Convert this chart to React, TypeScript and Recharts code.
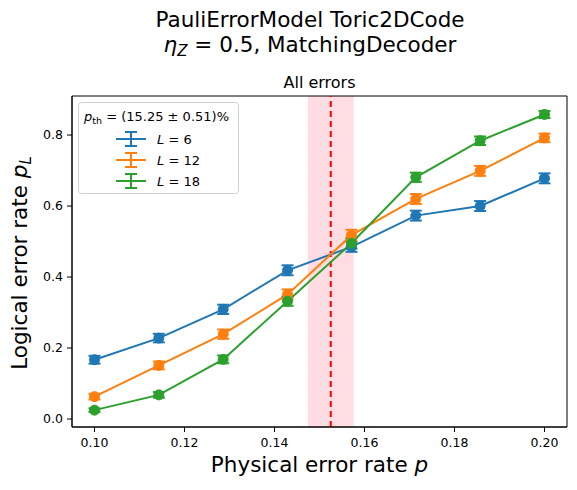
import { ComposedChart, Line, XAxis, YAxis, ErrorBar, ReferenceArea, ReferenceLine } from 'recharts';

// physical error rates p (8 evenly spaced points 0.10 .. 0.20)
const physicalRates = [0.1, 0.1143, 0.1286, 0.1429, 0.1571, 0.1714, 0.1857, 0.2];

// logical error rates and their error bars, per code size L
const pL6 = [0.167, 0.228, 0.309, 0.419, 0.485, 0.573, 0.6, 0.678];
const errL6 = [0.011, 0.012, 0.013, 0.014, 0.014, 0.014, 0.014, 0.014];
const pL12 = [0.063, 0.151, 0.239, 0.351, 0.518, 0.62, 0.699, 0.792];
const errL12 = [0.008, 0.011, 0.013, 0.014, 0.015, 0.014, 0.014, 0.012];
const pL18 = [0.025, 0.068, 0.168, 0.332, 0.495, 0.681, 0.784, 0.858];
const errL18 = [0.005, 0.008, 0.011, 0.013, 0.015, 0.013, 0.012, 0.01];

const xTicks = [0.1, 0.12, 0.14, 0.16, 0.18, 0.2];
const yTicks = [0, 0.2, 0.4, 0.6, 0.8];

const threshold = 0.1525;
const thresholdErr = 0.0051;

const series = [
  { key: 'l6', err: 'e6', label: '6', color: '#1f77b4' },
  { key: 'l12', err: 'e12', label: '12', color: '#ff7f0e' },
  { key: 'l18', err: 'e18', label: '18', color: '#2ca02c' },
];

const data = physicalRates.map((p, i) => ({
  p,
  l6: pL6[i], e6: errL6[i],
  l12: pL12[i], e12: errL12[i],
  l18: pL18[i], e18: errL18[i],
}));

const FONT = '"DejaVu Sans", sans-serif';
const tickStyle = { fill: '#000', fontSize: 12.5, fontFamily: FONT };

function LegendIcon({ x, y, color }: { x: number; y: number; color: string }) {
  return (
    <g stroke={color} strokeWidth={2}>
      <line x1={x} y1={y} x2={x + 30} y2={y} />
      <line x1={x + 15} y1={y - 7} x2={x + 15} y2={y + 7} />
      <line x1={x + 9} y1={y - 7} x2={x + 21} y2={y - 7} />
      <line x1={x + 9} y1={y + 7} x2={x + 21} y2={y + 7} />
    </g>
  );
}

export default function App() {
  return (
    <div style={{ position: 'absolute', left: 0, top: 0, width: 577, height: 490, background: '#fff' }}>
      <ComposedChart width={577} height={490} data={data} margin={{ top: 96, right: 10, bottom: 0, left: 0 }}>
        <ReferenceArea x1={threshold - thresholdErr} x2={threshold + thresholdErr} fill="#ffdde2" fillOpacity={1} stroke="none" />
        <ReferenceLine x={threshold} stroke="#ff0000" strokeWidth={2} strokeDasharray="6 4" />
        <XAxis
          dataKey="p"
          type="number"
          domain={[0.095, 0.205]}
          ticks={xTicks}
          tickFormatter={(v: number) => v.toFixed(2)}
          height={63}
          tick={tickStyle}
          tickSize={5}
          tickMargin={6}
          stroke="#000"
          allowDataOverflow
        />
        <YAxis
          type="number"
          domain={[-0.0225, 0.91]}
          ticks={yTicks}
          tickFormatter={(v: number) => v.toFixed(1)}
          width={72}
          tick={tickStyle}
          tickSize={5}
          tickMargin={4}
          stroke="#000"
          allowDataOverflow
        />
        <ReferenceArea x1={0.095} x2={0.205} y1={-0.0225} y2={0.91} fill="none" stroke="#000" strokeWidth={1} />
        {series.map((s) => (
          <Line
            key={s.key}
            dataKey={s.key}
            stroke={s.color}
            strokeWidth={2}
            dot={{ r: 5, fill: s.color, stroke: s.color, strokeWidth: 1 }}
            isAnimationActive={false}
          >
            <ErrorBar dataKey={s.err} width={6} stroke={s.color} strokeWidth={2} direction="y" />
          </Line>
        ))}
      </ComposedChart>

      <svg width={577} height={490} style={{ position: 'absolute', left: 0, top: 0, pointerEvents: 'none' }} fontFamily={FONT}>
        <text x={310} y={27} textAnchor="middle" fontSize={21.5}>PauliErrorModel Toric2DCode</text>
        <text x={310} y={52} textAnchor="middle" fontSize={21.5}>
          <tspan fontStyle="italic">η</tspan>
          <tspan fontStyle="italic" fontSize={15} dy={4}>Z</tspan>
          <tspan dy={-4}> = 0.5, MatchingDecoder</tspan>
        </text>
        <text x={319.5} y={88} textAnchor="middle" fontSize={16}>All errors</text>

        <text x={319.5} y={472} textAnchor="middle" fontSize={21.5}>
          Physical error rate <tspan fontStyle="italic">p</tspan>
        </text>
        <text transform="translate(26.5,263) rotate(-90)" textAnchor="middle" fontSize={21.5}>
          Logical error rate <tspan fontStyle="italic">p</tspan>
          <tspan fontStyle="italic" fontSize={15} dy={4}>L</tspan>
        </text>

        <rect x={78.5} y={102.5} width={160} height={91} rx={3} fill="#fff" fillOpacity={0.8} stroke="#d0d0d0" />
        <text x={84} y={121} fontSize={13}>
          <tspan fontStyle="italic">p</tspan>
          <tspan fontSize={9.5} dy={3}>th</tspan>
          <tspan dy={-3}> = (15.25 ± 0.51)%</tspan>
        </text>
        {series.map((s, i) => (
          <g key={s.key}>
            <LegendIcon x={116} y={139 + i * 21} color={s.color} />
            <text x={157} y={144 + i * 21} fontSize={13}>
              <tspan fontStyle="italic">L</tspan> = {s.label}
            </text>
          </g>
        ))}
      </svg>
    </div>
  );
}
